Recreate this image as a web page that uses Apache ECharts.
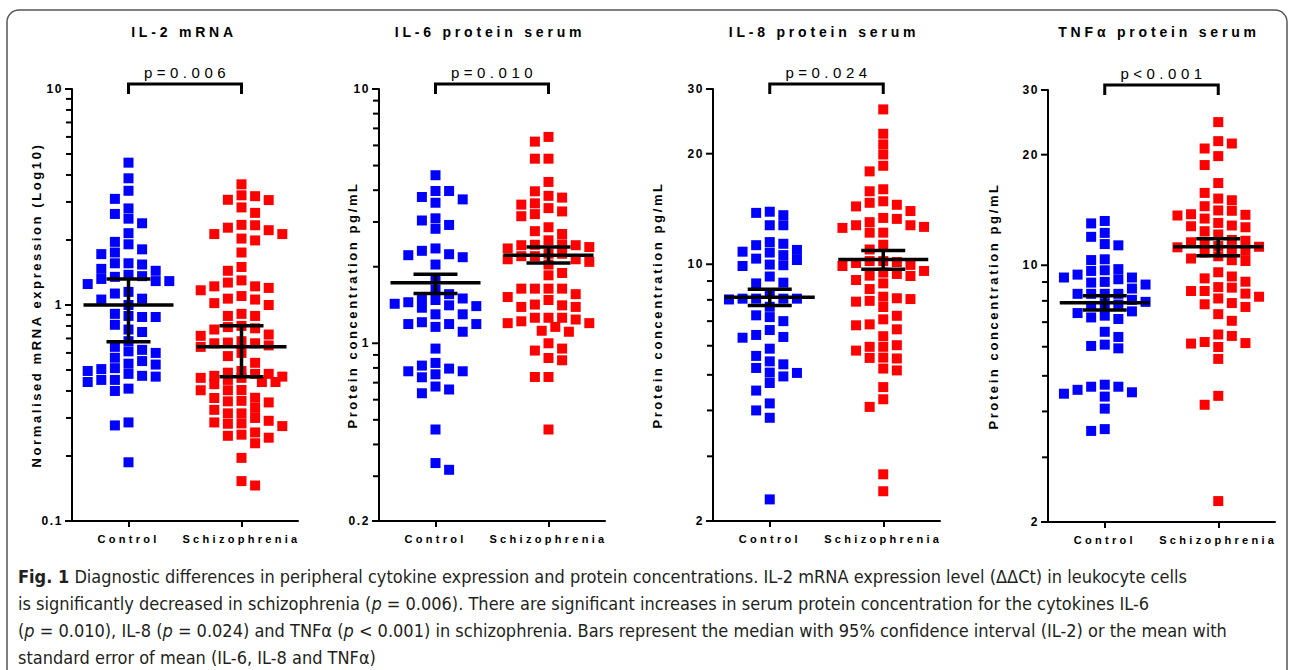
<!DOCTYPE html>
<html>
<head>
<meta charset="utf-8">
<script src="https://cdn.jsdelivr.net/npm/echarts@6/dist/echarts.min.js"></script>
<style>
html,body{margin:0;padding:0;background:#fff;}
#chart{width:1290px;height:670px;}
#chart text[style*="14px"]{letter-spacing:3.8px;}
#chart text[style*="13px"]{letter-spacing:2.6px;}
#chart text[style*="12px"]{letter-spacing:1.6px;}
#chart text[style*="11px"]{letter-spacing:3.3px;}
#chart text[style*="15px"]{letter-spacing:4.5px;}
#chart text[style*="18px"]{font-stretch:condensed !important;}
</style>
</head>
<body>
<div id="chart"></div>
<script>
// ---------------- data ----------------
const categories = ['Control', 'Schizophrenia'];
const panelTitles = ['IL-2 mRNA', 'IL-6 protein serum', 'IL-8 protein serum', 'TNF\u03b1 protein serum'];
const yAxisNames = ['Normalised mRNA expression (Log10)', 'Protein concentration pg/mL', 'Protein concentration pg/mL', 'Protein concentration pg/mL'];
const pLabels = ['p=0.006', 'p=0.010', 'p=0.024', 'p<0.001'];

const il2Range = [0.1, 10];
const il2MajorTicks = [0.1, 1, 10];
const il2MinorTicks = [0.2, 0.3, 0.4, 0.5, 0.6, 0.7, 0.8, 0.9, 2, 3, 4, 5, 6, 7, 8, 9];
const il2Control = [4.56, 3.86, 3.38, 3.10, 2.80, 2.64, 2.51, 2.39, 2.15, 1.91, 1.96, 1.75, 1.72, 1.81, 1.56, 1.54, 1.56, 1.36, 1.32, 1.44, 1.47, 1.35, 1.38, 1.29, 1.25, 1.29, 1.13, 1.06, 1.07, 1.15, 1.00, 0.91, 0.88, 0.88, 0.89, 0.81, 0.75, 0.77, 0.68, 0.64, 0.62, 0.60, 0.61, 0.55, 0.57, 0.535, 0.51, 0.495, 0.47, 0.466, 0.48, 0.505, 0.53, 0.45, 0.44, 0.45, 0.40, 0.41, 0.286, 0.277, 0.187];
const il2Schizophrenia = [3.62, 3.19, 3.06, 3.07, 3.22, 2.83, 2.67, 2.22, 2.13, 2.34, 2.35, 2.28, 2.03, 1.99, 2.13, 1.75, 1.50, 1.44, 1.27, 1.17, 1.22, 1.22, 1.30, 1.20, 1.02, 1.07, 1.06, 1.10, 1.00, 0.91, 0.89, 0.89, 0.80, 0.78, 0.77, 0.79, 0.72, 0.73, 0.665, 0.665, 0.64, 0.65, 0.67, 0.68, 0.58, 0.60, 0.54, 0.495, 0.48, 0.47, 0.46, 0.466, 0.48, 0.486, 0.46, 0.44, 0.43, 0.44, 0.45, 0.403, 0.403, 0.404, 0.372, 0.358, 0.354, 0.36, 0.371, 0.327, 0.334, 0.315, 0.30, 0.286, 0.282, 0.275, 0.283, 0.291, 0.315, 0.257, 0.248, 0.243, 0.251, 0.229, 0.196, 0.146, 0.153];
const il2Centre = [1.0, 0.641];
const il2Low = [0.676, 0.466];
const il2High = [1.32, 0.802];

const il6Range = [0.2, 10];
const il6MajorTicks = [0.2, 1, 10];
const il6MinorTicks = [0.3, 0.4, 0.5, 0.6, 0.7, 0.8, 0.9, 2, 3, 4, 5, 6, 7, 8, 9];
const il6Control = [4.58, 3.97, 3.68, 3.57, 3.76, 3.97, 3.04, 2.82, 2.92, 3.10, 2.22, 2.36, 2.18, 2.31, 2.24, 2.04, 1.80, 1.63, 1.56, 1.50, 1.48, 1.50, 1.43, 1.40, 1.38, 1.41, 1.45, 1.30, 1.30, 1.19, 1.19, 1.11, 1.16, 1.19, 1.21, 0.953, 0.837, 0.817, 0.776, 0.755, 0.735, 0.776, 0.795, 0.676, 0.636, 0.658, 0.458, 0.318, 0.338];
const il6Schizophrenia = [6.48, 6.21, 5.32, 5.32, 4.31, 3.96, 3.74, 3.80, 3.55, 3.40, 3.22, 3.16, 3.30, 3.51, 2.86, 2.69, 2.76, 2.54, 2.36, 2.44, 2.43, 2.39, 2.43, 2.45, 2.25, 2.25, 2.20, 2.20, 2.14, 2.14, 2.09, 2.04, 1.89, 1.85, 1.64, 1.64, 1.64, 1.64, 1.56, 1.52, 1.48, 1.41, 1.39, 1.39, 1.42, 1.26, 1.26, 1.26, 1.24, 1.20, 1.20, 1.16, 1.12, 1.22, 1.11, 1.00, 0.936, 0.953, 0.857, 0.875, 0.737, 0.737, 0.458];
const il6Centre = [1.73, 2.22];
const il6Low = [1.57, 2.07];
const il6High = [1.87, 2.39];

const il8Range = [2, 30];
const il8MajorTicks = [2, 10, 20, 30];
const il8MinorTicks = [3, 4, 5, 6, 7, 8, 9];
const il8Control = [13.9, 13.6, 12.77, 12.77, 13.8, 11.49, 11.27, 10.82, 11.37, 10.76, 10.94, 10.59, 10.36, 9.98, 9.89, 9.94, 10.27, 9.26, 8.91, 8.87, 8.32, 8.06, 8.02, 8.06, 8.06, 8.06, 7.66, 7.18, 7.26, 7.00, 6.62, 6.31, 6.42, 6.34, 5.89, 5.44, 5.22, 5.06, 4.95, 5.34, 5.63, 5.07, 4.75, 4.53, 4.18, 4.00, 3.82, 2.29];
const il8Schizophrenia = [26.4, 22.66, 21.2, 19.9, 17.9, 18.54, 16.0, 15.8, 14.84, 14.37, 14.52, 14.7, 13.96, 13.37, 13.29, 13.02, 12.77, 12.56, 12.19, 12.19, 12.64, 12.77, 11.30, 10.97, 10.2, 9.96, 9.89, 10.14, 10.08, 10.2, 9.49, 9.29, 9.06, 8.87, 9.31, 9.41, 9.59, 8.56, 8.16, 8.04, 7.91, 7.95, 8.08, 7.65, 7.24, 7.08, 6.82, 6.65, 6.86, 6.37, 5.96, 5.82, 5.54, 5.57, 5.96, 6.02, 5.56, 5.14, 5.20, 4.63, 4.29, 4.09, 2.68, 2.41];
const il8Centre = [8.13, 10.31];
const il8Low = [7.72, 9.69];
const il8High = [8.55, 10.9];

const tnfRange = [2, 30];
const tnfMajorTicks = [2, 10, 20, 30];
const tnfMinorTicks = [3, 4, 5, 6, 7, 8, 9];
const tnfControl = [13.2, 13.0, 12.25, 11.95, 11.42, 11.33, 10.38, 10.33, 9.76, 9.65, 9.69, 9.26, 9.16, 8.97, 8.86, 9.01, 9.26, 9.43, 8.64, 8.36, 8.36, 8.36, 8.36, 8.05, 7.95, 7.85, 7.75, 7.49, 7.29, 7.21, 7.14, 7.41, 7.82, 6.38, 6.59, 6.03, 5.94, 6.08, 4.58, 4.67, 4.39, 4.51, 4.47, 4.67, 4.73, 4.07, 3.54, 3.58];
const tnfSchizophrenia = [24.53, 21.45, 20.79, 21.77, 19.82, 18.74, 16.74, 15.74, 15.03, 15.19, 14.48, 14.07, 13.72, 14.10, 13.66, 13.77, 13.40, 13.04, 12.77, 12.38, 12.69, 12.83, 12.13, 11.66, 11.72, 11.55, 11.60, 11.23, 11.19, 11.28, 10.99, 10.83, 10.94, 10.58, 10.43, 10.27, 10.32, 9.57, 9.32, 9.02, 9.21, 8.69, 8.51, 8.51, 8.37, 8.72, 8.21, 8.12, 7.89, 7.70, 7.83, 7.36, 7.06, 6.42, 6.14, 6.12, 5.99, 6.18, 6.48, 5.56, 4.41, 4.17, 2.28];
const tnfCentre = [7.90, 11.23];
const tnfLow = [7.55, 10.61];
const tnfHigh = [8.26, 11.81];

const captionLines = [
  '{b|Fig. 1} Diagnostic differences in peripheral cytokine expression and protein concentrations. IL-2 mRNA expression level (\u0394\u0394Ct) in leukocyte cells',
  'is significantly decreased in schizophrenia ({i|p} = 0.006). There are significant increases in serum protein concentration for the cytokines IL-6',
  '({i|p} = 0.010), IL-8 ({i|p} = 0.024) and TNF\u03b1 ({i|p} < 0.001) in schizophrenia. Bars represent the median with 95% confidence interval (IL-2) or the mean with',
  'standard error of mean (IL-6, IL-8 and TNF\u03b1)'
];

// ---------------- layout ----------------
const FONT = '"Liberation Sans", Arial, Helvetica, sans-serif';
const CAPFONT = '"Liberation Sans Narrow", "DejaVu Sans Condensed", "Roboto Condensed", "Liberation Sans", sans-serif';
const X_MIN = 0.5, X_MAX = 2.5;
const boxes = [
  {left: 72, top: 89, width: 226, height: 432},
  {left: 379, top: 89, width: 226, height: 432},
  {left: 713, top: 89, width: 227, height: 432},
  {left: 1048, top: 90, width: 227, height: 432}
];
const titleX = [184, 490, 824, 1159];
const nameGaps = [29, 20, 49, 48];
const colors = ['#0000ff', '#ff0000'];

const panels = [
  {range: il2Range, major: il2MajorTicks, minor: il2MinorTicks, groups: [il2Control, il2Schizophrenia], centre: il2Centre, low: il2Low, high: il2High},
  {range: il6Range, major: il6MajorTicks, minor: il6MinorTicks, groups: [il6Control, il6Schizophrenia], centre: il6Centre, low: il6Low, high: il6High},
  {range: il8Range, major: il8MajorTicks, minor: il8MinorTicks, groups: [il8Control, il8Schizophrenia], centre: il8Centre, low: il8Low, high: il8High},
  {range: tnfRange, major: tnfMajorTicks, minor: tnfMinorTicks, groups: [tnfControl, tnfSchizophrenia], centre: tnfCentre, low: tnfLow, high: tnfHigh}
];

// deterministic beeswarm layout (horizontal spreading only, width capped)
function swarm(values, box, range, centre) {
  const STEP = 6.8, DX = 13, DY = 10, MAXOFF = 42;
  const lmin = Math.log10(range[0]), lmax = Math.log10(range[1]);
  const pxPerX = box.width / (X_MAX - X_MIN);
  const pts = values.map(v => ({v: v, y: box.top + box.height * (lmax - Math.log10(v)) / (lmax - lmin)}));
  pts.sort((a, b) => a.y - b.y);
  const placed = [];
  const out = [];
  pts.forEach((p, idx) => {
    let chosen = 0, bestCost = Infinity;
    for (let k = 0; k < 80; k++) {
      const m = Math.ceil(k / 2);
      const sign = ((k % 2 === 1) !== (idx % 2 === 1)) ? 1 : -1;
      const off = k === 0 ? 0 : sign * m * STEP;
      if (Math.abs(off) > MAXOFF) break;
      let cost = 0;
      placed.forEach(q => {
        const ox = DX - Math.abs(q.x - off), oy = DY - Math.abs(q.y - p.y);
        if (ox > 0 && oy > 0) cost += ox * oy;
      });
      if (cost === 0) { chosen = off; break; }
      if (cost < bestCost - 1e-9) { bestCost = cost; chosen = off; }
    }
    placed.push({x: chosen, y: p.y});
    out.push([centre + chosen / pxPerX, p.v]);
  });
  return out;
}

const grid = [], xAxis = [], yAxis = [], series = [];
panels.forEach((pn, i) => {
  const b = boxes[i];
  grid.push({left: b.left, top: b.top, width: b.width, height: b.height, containLabel: false, outerBoundsMode: 'none'});
  xAxis.push({
    gridIndex: i, type: 'category', data: categories, boundaryGap: true,
    axisLine: {show: true, lineStyle: {color: '#000', width: 2}},
    axisTick: {show: true, alignWithLabel: true, length: 6, lineStyle: {color: '#000', width: 2}},
    axisLabel: {color: '#000', fontSize: 11, fontWeight: 'bold', fontFamily: FONT, margin: 12},
    splitLine: {show: false}
  });
  xAxis.push({gridIndex: i, type: 'value', min: X_MIN, max: X_MAX, show: false, splitLine: {show: false}});
  yAxis.push({
    gridIndex: i, type: 'log', logBase: 10, min: pn.range[0], max: pn.range[1],
    axisLine: {show: true, onZero: false, lineStyle: {color: '#000', width: 2}},
    axisTick: {show: false}, axisLabel: {show: false}, splitLine: {show: false}, minorTick: {show: false},
    name: yAxisNames[i], nameLocation: 'middle', nameRotate: 90, nameGap: nameGaps[i],
    nameTextStyle: {color: '#000', fontSize: 13, fontWeight: 'bold', fontFamily: FONT}
  });
  const xi = 2 * i + 1;
  pn.groups.forEach((vals, g) => {
    series.push({
      type: 'scatter', xAxisIndex: xi, yAxisIndex: i,
      symbol: 'rect', symbolSize: 10, silent: true,
      itemStyle: {color: colors[g], opacity: 1},
      data: swarm(vals, b, pn.range, g + 1), z: 2
    });
  });
  // median/mean with interval
  series.push({
    type: 'custom', xAxisIndex: xi, yAxisIndex: i, silent: true, z: 5, clip: false,
    encode: {x: 0, y: 1},
    data: pn.centre.map((c, k) => [k + 1, c, pn.low[k], pn.high[k]]),
    renderItem: function (params, api) {
      const x = api.value(0);
      const pc = api.coord([x, api.value(1)]);
      const pl = api.coord([x, api.value(2)]);
      const ph = api.coord([x, api.value(3)]);
      const st = {stroke: '#000', lineWidth: 3.5};
      return {type: 'group', children: [
        {type: 'line', shape: {x1: pc[0] - 45, y1: pc[1], x2: pc[0] + 45, y2: pc[1]}, style: st},
        {type: 'line', shape: {x1: pl[0] - 22, y1: pl[1], x2: pl[0] + 22, y2: pl[1]}, style: st},
        {type: 'line', shape: {x1: ph[0] - 22, y1: ph[1], x2: ph[0] + 22, y2: ph[1]}, style: st},
        {type: 'line', shape: {x1: pc[0], y1: pl[1], x2: pc[0], y2: ph[1]}, style: st}
      ]};
    }
  });
  // y-axis ticks and labels
  const tickData = pn.major.map(v => [X_MIN, v, 1]).concat(pn.minor.map(v => [X_MIN, v, 0]));
  series.push({
    type: 'custom', xAxisIndex: xi, yAxisIndex: i, silent: true, z: 3, clip: false,
    encode: {x: 0, y: 1},
    data: tickData,
    renderItem: function (params, api) {
      const v = api.value(1);
      const major = api.value(2) === 1;
      const p = api.coord([X_MIN, v]);
      const len = major ? 6 : 5;
      const children = [{type: 'line', shape: {x1: p[0] - len - 1, y1: p[1], x2: p[0], y2: p[1]}, style: {stroke: '#000', lineWidth: 2}}];
      if (major) {
        children.push({type: 'text', style: {text: String(v), x: p[0] - 9, y: p[1], align: 'right', verticalAlign: 'middle', font: 'bold 12px ' + FONT, fill: '#000'}});
      }
      return {type: 'group', children: children};
    }
  });
  // significance bracket
  series.push({
    type: 'custom', xAxisIndex: xi, yAxisIndex: i, silent: true, z: 4, clip: false,
    encode: {x: 0, y: 1},
    data: [[1, pn.range[1], 2]],
    renderItem: function (params, api) {
      const p1 = api.coord([api.value(0), api.value(1)]);
      const p2 = api.coord([api.value(2), api.value(1)]);
      const top = p1[1] - 5;
      return {type: 'group', children: [
        {type: 'polyline', shape: {points: [[p1[0], p1[1] + 5], [p1[0], top], [p2[0], top], [p2[0], p1[1] + 5]]}, style: {stroke: '#000', lineWidth: 3, fill: null}},
        {type: 'text', style: {text: pLabels[i], x: (p1[0] + p2[0]) / 2 + 2, y: top - 12, align: 'center', verticalAlign: 'middle', font: '15px ' + FONT, fill: '#000'}}
      ]};
    }
  });
});

const graphic = [
  {type: 'rect', shape: {x: 7, y: 10, width: 1280, height: 700, r: 12}, style: {fill: null, stroke: '#555', lineWidth: 1.5}, silent: true, z: 0}
];
panelTitles.forEach((t, i) => {
  graphic.push({type: 'text', x: titleX[i], y: 32, style: {text: t, align: 'center', verticalAlign: 'middle', font: 'bold 14px ' + FONT, fill: '#000'}, silent: true});
});
captionLines.forEach((t, i) => {
  graphic.push({type: 'text', x: 18, y: 576 + 27 * i, style: {
    text: t, align: 'left', verticalAlign: 'middle', font: '18px ' + CAPFONT, fill: '#231f20',
    rich: {b: {font: 'bold 18px ' + CAPFONT, fill: '#231f20'}, i: {font: 'italic 18px ' + CAPFONT, fill: '#231f20'}}
  }, silent: true});
});

const chart = echarts.init(document.getElementById('chart'), null, {renderer: 'svg', width: 1290, height: 670});
chart.setOption({
  backgroundColor: '#ffffff',
  animation: false,
  grid: grid, xAxis: xAxis, yAxis: yAxis, series: series, graphic: graphic
});
</script>
</body>
</html>
